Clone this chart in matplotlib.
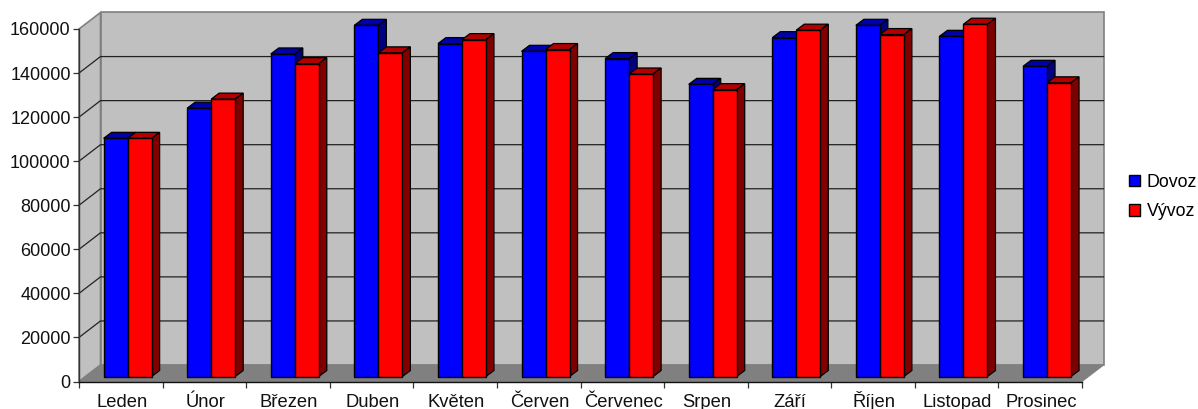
#!/usr/bin/env python3
import matplotlib
matplotlib.use("Agg")
import matplotlib.pyplot as plt
from matplotlib.patches import Polygon, Patch
from matplotlib.transforms import Affine2D

months = ["Leden", "Únor", "Březen", "Duben", "Květen", "Červen",
          "Červenec", "Srpen", "Září", "Říjen", "Listopad", "Prosinec"]
dovoz = [108100, 121800, 146400, 159400, 151100, 147600,
         144300, 132600, 153800, 159400, 154400, 140800]
vyvoz = [108100, 125900, 142000, 146900, 152900, 148400,
         137300, 130200, 157200, 155200, 159900, 133300]
yticks = list(range(0, 160001, 20000))

plt.rcParams["font.family"] = ["Liberation Sans"]

W, H = 1198, 409
X0, X1 = 79, 1082    # front axis, pixels
Y0, Y1 = 381.5, 29
WALL_DX, WALL_DY = 21.5, 16.5
BAR_DX, BAR_DY = 8.5, 5.0   # bar front plane relative to the front axis
DEPTH_X, DEPTH_Y = 8.0, 6.0

fig = plt.figure(figsize=(W / 100, H / 100), dpi=100)
ax = fig.add_axes([X0 / W, 1 - Y0 / H, (X1 - X0) / W, (Y0 - Y1) / H])
ax.set_xlim(0, len(months))
ax.set_ylim(0, 160000)
ax.set_facecolor("none")
for s in ax.spines.values():
    s.set_visible(False)

wall = ax.transData + Affine2D().translate(WALL_DX, WALL_DY)
bars = ax.transData + Affine2D().translate(BAR_DX, BAR_DY)
px = (X1 - X0) / len(months)
dy_data = 160000 / (Y0 - Y1)


def poly(points, trans, **kw):
    ax.add_patch(Polygon(points, closed=True, transform=trans, clip_on=False, **kw))


n = len(months)
grey, dark = "#c0c0c0", "#808080"
# back wall, side wall, floor
poly([(0, 0), (n, 0), (n, 160000), (0, 160000)], wall, fc=grey, ec=dark, lw=1.2, zorder=1)
wx = WALL_DX / px
wy = WALL_DY * dy_data
poly([(0, 0), (wx, wy), (wx, 160000 + wy), (0, 160000)], ax.transData, fc=grey, ec=dark, lw=1.2, zorder=1)
poly([(0, 0), (n, 0), (n + wx, wy), (wx, wy)], ax.transData, fc=dark, ec=dark, lw=0.8, zorder=1)

for t in yticks[1:-1]:
    ax.plot([0, wx, n + wx], [t, t + wy, t + wy], color="#222222", lw=0.9, zorder=2, clip_on=False)
ax.plot([0, 0], [0, 160000], color="#333333", lw=1, zorder=2, clip_on=False)
ax.plot([0, n], [0, 0], color="#111111", lw=1, zorder=2, clip_on=False)

# bars, back to front along x
bar_w = 24.0 / px
dx = DEPTH_X / px
dy = DEPTH_Y * dy_data
for i in range(n):
    for j, (vals, col, top, side) in enumerate(
            [(dovoz, "#0000ff", "#0000aa", "#000080"), (vyvoz, "#ff0000", "#b00000", "#800000")]):
        left = i + 0.5 - bar_w + j * bar_w - 0.02
        v = vals[i]
        z = 3 + i + j * 0.1
        poly([(left, v), (left + bar_w, v), (left + bar_w + dx, v + dy), (left + dx, v + dy)],
             bars, fc=top, ec="black", lw=0.9, zorder=z)
        poly([(left + bar_w, 0), (left + bar_w + dx, dy), (left + bar_w + dx, v + dy), (left + bar_w, v)],
             bars, fc=side, ec="black", lw=0.9, zorder=z)
        ax.bar(left, v, bar_w, align="edge", color=col, edgecolor="black", lw=1,
               transform=bars, zorder=z + 0.01, clip_on=False)

ax.set_yticks(yticks)
ax.set_xticks(range(n + 1))
ax.set_xticklabels([])
ax.tick_params(axis="both", length=4, width=0.9, color="#333333", labelsize=13, pad=2)
for lab in ax.get_yticklabels():
    lab.set_color("#111111")
for i, m in enumerate(months):
    ax.text(i + 0.51, -11600, m, ha="center", va="baseline", fontsize=13.2, color="#111111", clip_on=False)

handles = [Patch(fc="#0000ff", ec="black", label="Dovoz"), Patch(fc="#ff0000", ec="black", label="Vývoz")]
fig.legend(handles=handles, loc="center left", bbox_to_anchor=(1129 / W, 1 - 197 / H), frameon=False,
           prop={"size": 12.8}, handlelength=0.62, handleheight=0.62,
           handletextpad=0.36, labelspacing=0.68, borderpad=0, borderaxespad=0)

fig.savefig("out.png", dpi=100)
